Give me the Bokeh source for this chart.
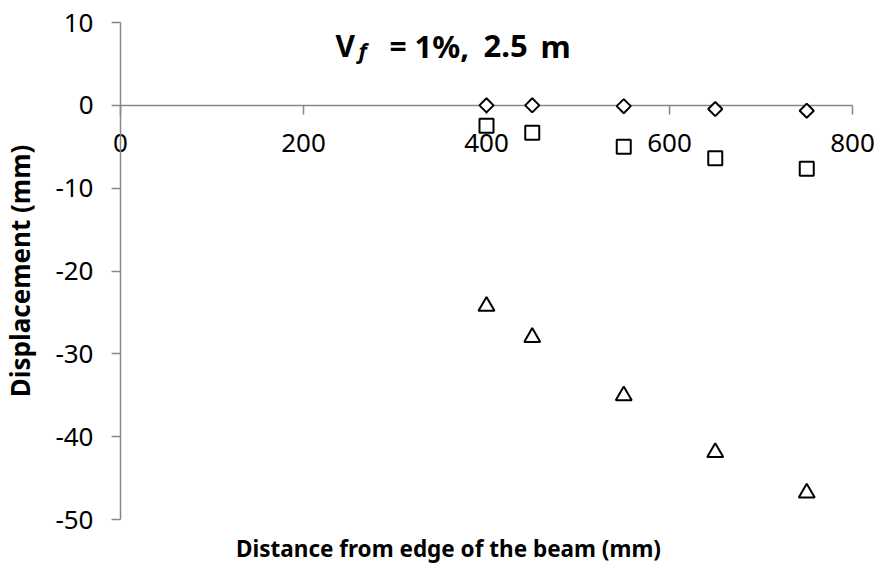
import math

from bokeh.embed import file_html
from bokeh.models import FixedTicker, Label, LinearAxis, PrintfTickFormatter, Range1d
from bokeh.plotting import figure
from bokeh.resources import INLINE

# Measured displacement along the beam (mm)
distance = [400, 450, 550, 650, 750]
disp_diamond = [0.0, 0.0, -0.1, -0.45, -0.65]
disp_square = [-2.45, -3.3, -5.0, -6.4, -7.65]
disp_triangle = [-24.25, -28.0, -35.05, -41.9, -46.8]

x_ticks = [0, 200, 400, 600, 800]
y_ticks = [-50, -40, -30, -20, -10, 0, 10]
x_lim = (0, 800)
y_lim = (-50, 10)

FONT = "Noto Sans"
AXIS_GREY = "#878787"

# canvas geometry: the plotting frame fills the canvas, and the ranges are
# padded so that the axis extents land at the wanted pixel positions
W, H = 879, 570
AX_LEFT, AX_RIGHT = 120, 852     # pixel columns of x = 0 and x = 800
AX_TOP, AX_BOTTOM = 22, 519      # pixel rows of y = 10 and y = -50

sx = (x_lim[1] - x_lim[0]) / (AX_RIGHT - AX_LEFT)
sy = (y_lim[1] - y_lim[0]) / (AX_BOTTOM - AX_TOP)
x_range = Range1d(x_lim[0] - AX_LEFT * sx, x_lim[1] + (W - AX_RIGHT) * sx)
y_range = Range1d(y_lim[0] - (H - AX_BOTTOM) * sy, y_lim[1] + AX_TOP * sy)

p = figure(
    width=W, height=H,
    output_backend="svg", toolbar_location=None,
    x_range=x_range, y_range=y_range,
    x_axis_location=None, y_axis_location=None,
    min_border=0,
)
p.outline_line_color = None
p.xgrid.visible = False
p.ygrid.visible = False
p.background_fill_color = "white"
p.border_fill_color = "white"


def style_axis(ax, ticks, standoff):
    ax.ticker = FixedTicker(ticks=ticks)
    ax.formatter = PrintfTickFormatter(format="%d")
    ax.axis_line_color = AXIS_GREY
    ax.axis_line_width = 1.5
    ax.major_tick_line_color = AXIS_GREY
    ax.major_tick_line_width = 1.5
    ax.major_tick_in = 0
    ax.major_tick_out = 9
    ax.minor_tick_line_color = None
    ax.major_label_text_font = FONT
    ax.major_label_text_font_size = "26px"
    ax.major_label_text_color = "black"
    ax.major_label_standoff = standoff


# horizontal axis crosses at zero displacement
xa = LinearAxis(fixed_location=0, bounds=x_lim)
style_axis(xa, x_ticks, 20)
p.add_layout(xa, "below")

# vertical axis at zero distance
ya = LinearAxis(fixed_location=0, bounds=y_lim)
style_axis(ya, y_ticks, 18)
ya.axis_label = "Displacement (mm)"
ya.axis_label_text_font = FONT
ya.axis_label_text_font_size = "26px"
ya.axis_label_text_font_style = "bold"
ya.axis_label_text_color = "black"
ya.axis_label_standoff = 14
p.add_layout(ya, "left")

# series markers: open shapes drawn above the axis lines
marker_style = dict(line_color="black", line_width=2, fill_color="white", level="overlay")
p.scatter(distance, disp_diamond, marker="square", size=10, angle=math.pi / 4, **marker_style)
p.scatter(distance, disp_square, marker="square", size=14, **marker_style)
p.scatter(distance, disp_triangle, marker="triangle", size=16, **marker_style)

# horizontal axis title below the chart
p.add_layout(Label(
    x=448, y=H - 548, x_units="screen", y_units="screen",
    text="Distance from edge of the beam (mm)",
    text_font=FONT, text_font_size="22.5px", text_font_style="bold",
    text_align="center", text_baseline="middle", text_color="black",
))

# chart title: V with italic subscript f, then the condition text
title_style = dict(text_font=FONT, text_font_style="bold", text_color="black",
                   text_baseline="alphabetic", x_units="screen", y_units="screen")
TITLE_BASE = H - 45
p.add_layout(Label(x=335, y=TITLE_BASE, text="V", text_font_size="30px", **title_style))
p.add_layout(Label(x=358, y=TITLE_BASE - 4, text="f", text_font_size="22px",
                   text_font=FONT, text_font_style="bold italic", text_color="black",
                   text_baseline="alphabetic", x_units="screen", y_units="screen"))
p.add_layout(Label(x=389, y=TITLE_BASE, text="=", text_font_size="30px", **title_style))
p.add_layout(Label(x=414, y=TITLE_BASE, text="1%,", text_font_size="31px", **title_style))
p.add_layout(Label(x=483, y=TITLE_BASE, text="2.5", text_font_size="31px", **title_style))
p.add_layout(Label(x=540, y=TITLE_BASE, text="m", text_font_size="31px", **title_style))

open("out.html", "w").write(file_html(p, INLINE))
